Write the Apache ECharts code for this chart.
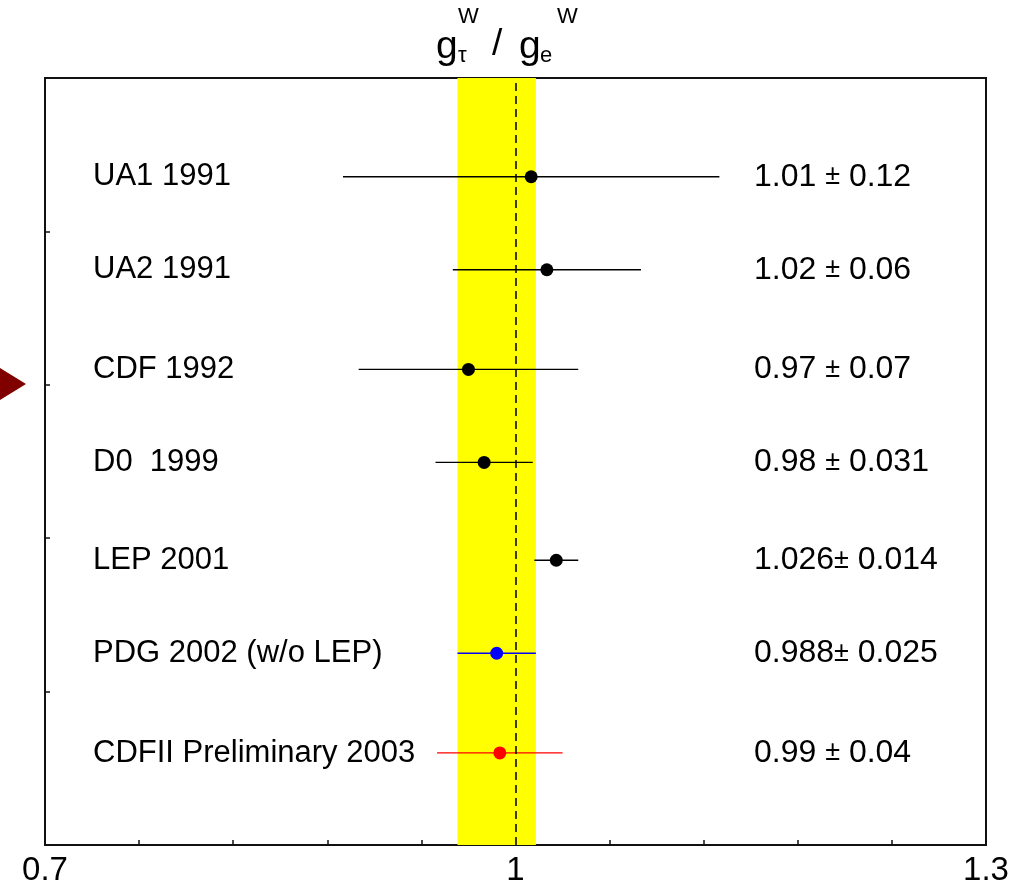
<!DOCTYPE html>
<html>
<head>
<meta charset="utf-8">
<script src="https://cdn.jsdelivr.net/npm/echarts@6/dist/echarts.min.js"></script>
<style>
html,body{margin:0;padding:0;background:#fff;}
#chart{width:1032px;height:887px;}
</style>
</head>
<body>
<div id="chart"></div>
<script>
// ---- data ----
const categories = ['UA1 1991', 'UA2 1991', 'CDF 1992', 'D0  1999', 'LEP 2001', 'PDG 2002 (w/o LEP)', 'CDFII Preliminary 2003'];
const values = [1.01, 1.02, 0.97, 0.98, 1.026, 0.988, 0.99];
const errors = [0.12, 0.06, 0.07, 0.031, 0.014, 0.025, 0.04];
const rowPos = [6.97, 6.0, 4.96, 3.99, 2.97, 2.0, 0.96];
const band = [0.963, 1.013];
const refValue = 1;
const xLabelTicks = [0.7, 1, 1.3];
const xRange = [0.7, 1.3];
const yRange = [0, 8];

// ---- styles ----
const markerColors = ['#000', '#000', '#000', '#000', '#000', '#0000ff', '#ff0000'];
const FONT = '"Liberation Sans", Arial, sans-serif';

const chart = echarts.init(document.getElementById('chart'), null, {renderer: 'canvas'});

const nameData = categories.map((c, i) => ({value: [xRange[0], rowPos[i]], name: c}));
const valData = categories.map((c, i) => ({
  value: [xRange[0], rowPos[i]],
  v: String(values[i]),
  e: String(errors[i])
}));
const barData = values.map((v, i) => [v - errors[i], v + errors[i], rowPos[i], i]);
const dotData = values.map((v, i) => ({value: [v, rowPos[i]], itemStyle: {color: markerColors[i], opacity: 1}}));

const option = {
  animation: false,
  backgroundColor: '#fff',
  grid: {left: 45, right: 46, top: 78, bottom: 38, show: true, borderColor: '#111', borderWidth: 2, backgroundColor: 'transparent'},
  xAxis: {
    type: 'value', min: xRange[0], max: xRange[1], interval: 0.06,
    axisLine: {show: true, lineStyle: {color: '#111', width: 2}},
    axisTick: {show: true, inside: true, length: 5, lineStyle: {color: '#111', width: 1.5}},
    splitLine: {show: false},
    axisLabel: {
      show: true, margin: 9, color: '#000', fontSize: 33, fontFamily: FONT,
      showMinLabel: true, showMaxLabel: true,
      formatter: function (v) {
        const r = Math.round(v * 100) / 100;
        return xLabelTicks.some(t => Math.abs(t - r) < 1e-6) ? String(r) : '';
      }
    }
  },
  yAxis: {
    type: 'value', min: yRange[0], max: yRange[1], interval: 1.6,
    axisLine: {show: true, lineStyle: {color: '#111', width: 2}},
    axisTick: {show: true, inside: true, length: 5, lineStyle: {color: '#111', width: 1.5}},
    splitLine: {show: false},
    axisLabel: {show: false}
  },
  graphic: [
    {type: 'polygon', shape: {points: [[0, 368], [26, 384], [0, 400]]}, style: {fill: '#800000'}},
    {type: 'text', x: 436, y: 47, style: {text: 'g', font: '39px ' + FONT, fill: '#000', textVerticalAlign: 'middle'}},
    {type: 'text', x: 458, y: 17, style: {text: 'W', font: '22px ' + FONT, fill: '#000', textVerticalAlign: 'middle'}},
    {type: 'text', x: 458, y: 56, style: {text: 'τ', font: '22px ' + FONT, fill: '#000', textVerticalAlign: 'middle'}},
    {type: 'text', x: 492, y: 45, style: {text: '/', font: '37px ' + FONT, fill: '#000', textVerticalAlign: 'middle'}},
    {type: 'text', x: 519, y: 47, style: {text: 'g', font: '39px ' + FONT, fill: '#000', textVerticalAlign: 'middle'}},
    {type: 'text', x: 540, y: 56, style: {text: 'e', font: '22px ' + FONT, fill: '#000', textVerticalAlign: 'middle'}},
    {type: 'text', x: 557, y: 17, style: {text: 'W', font: '22px ' + FONT, fill: '#000', textVerticalAlign: 'middle'}}
  ],
  series: [
    {
      name: 'names', type: 'scatter', z: 1, silent: true,
      symbolSize: 0.001, data: nameData, itemStyle: {opacity: 1},
      label: {show: true, position: 'right', distance: 48, formatter: '{b}', color: '#000', opacity: 1, fontSize: 31, fontFamily: FONT},
      markArea: {
        silent: true,
        itemStyle: {color: '#ffff00', opacity: 1},
        data: [[{xAxis: band[0]}, {xAxis: band[1]}]]
      }
    },
    {
      name: 'values', type: 'scatter', z: 1, silent: true,
      symbolSize: 0.001, data: valData, itemStyle: {opacity: 1},
      label: {
        show: true, position: 'right', distance: 709, color: '#000', opacity: 1, fontSize: 32, fontFamily: FONT,
        formatter: function (p) {
          const sp = p.data.v.length < 5 ? ' ' : '';
          return '{n|' + p.data.v + sp + '}{pm|±}{n| ' + p.data.e + '}';
        },
        rich: {
          n: {fontSize: 32, fontFamily: FONT, color: '#000'},
          pm: {fontSize: 27, fontFamily: FONT, color: '#000'}
        }
      }
    },
    {
      name: 'errors', type: 'custom', z: 3, silent: true,
      data: barData,
      encode: {x: [0, 1], y: 2},
      renderItem: function (params, api) {
        const y = api.value(2);
        const a = api.coord([api.value(0), y]);
        const b = api.coord([api.value(1), y]);
        return {type: 'line', shape: {x1: a[0], y1: a[1], x2: b[0], y2: b[1]},
          style: {stroke: markerColors[api.value(3)], lineWidth: 1.3}};
      },
      markLine: {
        silent: true, symbol: 'none', label: {show: false},
        lineStyle: {color: '#000', type: [8, 5], width: 1.5, opacity: 1},
        data: [{xAxis: refValue}]
      }
    },
    {
      name: 'points', type: 'scatter', z: 4, silent: true,
      symbol: 'circle', symbolSize: 13, data: dotData, itemStyle: {opacity: 1}
    }
  ]
};
chart.setOption(option);
</script>
</body>
</html>
